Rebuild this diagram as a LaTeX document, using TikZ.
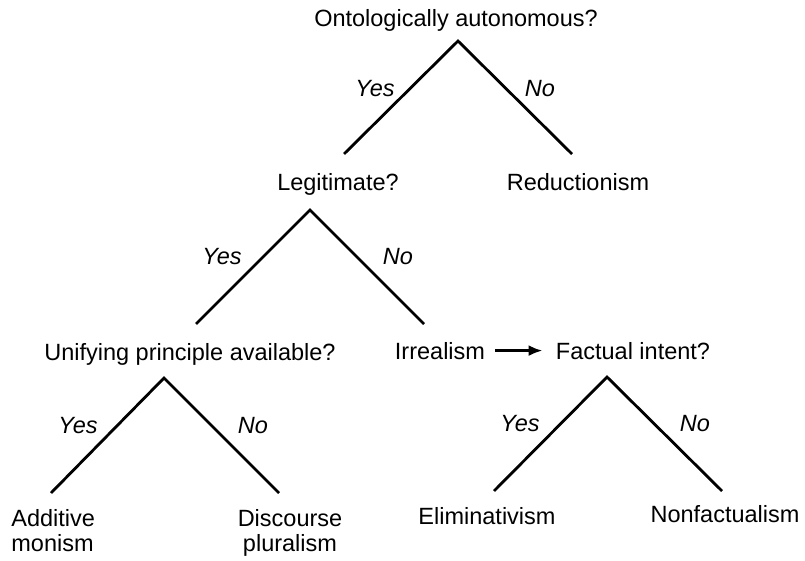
\documentclass[tikz,border=0pt]{standalone}
\usepackage{fontspec}
\setmainfont{Liberation Sans}
\usetikzlibrary{arrows.meta}
\begin{document}
\begin{tikzpicture}[x=1pt,y=1pt,line width=2.8pt]
\tikzstyle{every node}+=[inner sep=0pt,anchor=base,font=\fontsize{23.5}{25}\selectfont]
\tikzstyle{ans}=[font=\fontsize{23.5}{25}\selectfont\itshape]
\useasboundingbox (0,0) rectangle (805,-561);
% level 1
\draw (456,-27) node (auto) {Ontologically autonomous?};
\coordinate (top1) at (458,-41);
\coordinate (yes1) at (344,-154);
\coordinate (no1) at (572,-154);
\draw [black] (yes1) -- (top1) -- (no1);
\draw (375,-97) node [ans] (y1) {Yes};
\draw (540,-97) node [ans] (n1) {No};
\draw (338,-191) node (legit) {Legitimate?};
\draw (578,-191) node (reduc) {Reductionism};
% level 2
\coordinate (top2) at (310,-210);
\coordinate (yes2) at (196,-324);
\coordinate (no2) at (424,-324);
\draw [black] (yes2) -- (top2) -- (no2);
\draw (222,-264) node [ans] (y2) {Yes};
\draw (398,-264) node [ans] (n2) {No};
\draw (190,-360) node (unif) {Unifying principle available?};
\draw (440,-359) node (irr) {Irrealism};
\draw (633,-359) node (fact) {Factual intent?};
\draw [black,line width=2.6pt,-{Latex[length=14pt,width=11pt]},shorten <=9pt,shorten >=12pt] (irr.east) -- (fact.west);
% level 3, left
\coordinate (top3) at (164,-378);
\coordinate (yes3) at (51,-493);
\coordinate (no3) at (279,-493);
\draw [black] (yes3) -- (top3) -- (no3);
\draw (78,-433) node [ans] (y3) {Yes};
\draw (253,-433) node [ans] (n3) {No};
\draw (10,-551) node [anchor=base west,align=left] (addmon) {Additive\\monism};
\draw (290,-551) node [align=center] (displ) {Discourse\\pluralism};
% level 3, right
\coordinate (top4) at (607,-377);
\coordinate (yes4) at (494,-491);
\coordinate (no4) at (722,-491);
\draw [black] (yes4) -- (top4) -- (no4);
\draw (520,-431) node [ans] (y4) {Yes};
\draw (695,-431) node [ans] (n4) {No};
\draw (487,-524) node (elim) {Eliminativism};
\draw (725,-522) node (nonfact) {Nonfactualism};
\end{tikzpicture}
\end{document}
